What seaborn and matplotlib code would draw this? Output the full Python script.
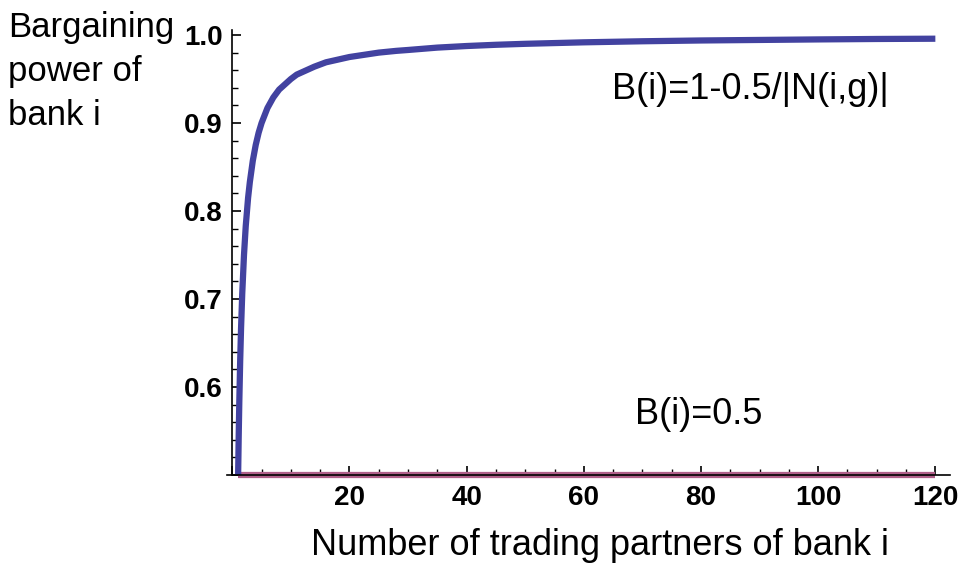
import matplotlib
matplotlib.use("Agg")
import matplotlib.pyplot as plt
from matplotlib.ticker import MultipleLocator
import pandas as pd
import seaborn as sns

# values
partners = [1, 1.1, 1.2, 1.35, 1.5, 1.7, 2, 2.3, 2.7, 3, 3.5, 4, 4.5, 5, 6, 7, 8,
            9, 10, 11, 12, 14, 16, 18, 20, 22, 25, 28, 30, 35, 40, 45, 50, 60,
            70, 80, 90, 100, 110, 120]
power_upper = [0.5, 0.545, 0.583, 0.63, 0.667, 0.706, 0.75, 0.783, 0.815, 0.833,
               0.857, 0.875, 0.889, 0.9, 0.917, 0.929, 0.938, 0.944, 0.95, 0.955,
               0.958, 0.964, 0.969, 0.972, 0.975, 0.977, 0.98, 0.982, 0.983,
               0.9857, 0.9875, 0.9889, 0.99, 0.9917, 0.9929, 0.9938, 0.9944,
               0.995, 0.9955, 0.9958]
flat_x = [1, 120]
flat_y = [0.5, 0.5]

x_ticks = [0, 20, 40, 60, 80, 100, 120]
x_tick_labels = ["", "20", "40", "60", "80", "100", "120"]
y_ticks = [0.5, 0.6, 0.7, 0.8, 0.9, 1.0]
y_tick_labels = ["", "0.6", "0.7", "0.8", "0.9", "1.0"]

sns.set_theme(style="white")
plt.rcParams["font.family"] = ["Liberation Sans", "DejaVu Sans"]
plt.rcParams["text.color"] = "black"
plt.rcParams["xtick.color"] = "black"
plt.rcParams["ytick.color"] = "black"
plt.rcParams["axes.labelcolor"] = "black"

curve = pd.DataFrame({"n": partners, "B": power_upper})
flat = pd.DataFrame({"n": flat_x, "B": flat_y})

fig = plt.figure(figsize=(9.66, 5.69), dpi=100)
ax = fig.add_axes([227 / 966, 1 - 475 / 569, (950 - 227) / 966, (475 - 30) / 569])

sns.lineplot(data=flat, x="n", y="B", ax=ax, color="#b0608a", linewidth=4.5,
             zorder=2, solid_capstyle="butt", clip_on=False)
sns.lineplot(data=curve, x="n", y="B", ax=ax, color="#4242a0", linewidth=4.5,
             zorder=3, solid_capstyle="butt")

ax.set_xlim(-0.9, 122.5)
ax.set_ylim(0.5, 1.0057)

for side in ["top", "right"]:
    ax.spines[side].set_visible(False)
ax.spines["left"].set_position(("data", 0))
for side in ["left", "bottom"]:
    ax.spines[side].set_color("black")
    ax.spines[side].set_linewidth(1.2)
    ax.spines[side].set_zorder(4)

ax.set_xticks(x_ticks)
ax.set_xticklabels(x_tick_labels)
ax.set_yticks(y_ticks)
ax.set_yticklabels(y_tick_labels)
ax.xaxis.set_minor_locator(MultipleLocator(5))
ax.yaxis.set_minor_locator(MultipleLocator(0.02))
ax.tick_params(which="major", direction="in", length=6.5, width=1.2, color="black",
               labelsize=20, pad=7, bottom=True, left=True)
ax.tick_params(which="minor", direction="in", length=4, width=1.0, color="black",
               bottom=True, left=True)
for lab in ax.get_xticklabels() + ax.get_yticklabels():
    lab.set_fontweight("bold")

ax.set_xlabel("Number of trading partners of bank i", fontsize=26)
ax.xaxis.set_label_coords((600 - 227) / (950 - 227), -0.12)
ax.set_ylabel("")
fig.text(8 / 966, 1 - 11 / 569, "Bargaining\npower of\nbank i", fontsize=25,
         ha="left", va="top", linespacing=1.42)

ax.text(64.8, 0.938, "B(i)=1-0.5/|N(i,g)|", fontsize=26, ha="left", va="center")
ax.text(68.7, 0.569, "B(i)=0.5", fontsize=26, ha="left", va="center")

fig.savefig("out.png", dpi=100)
